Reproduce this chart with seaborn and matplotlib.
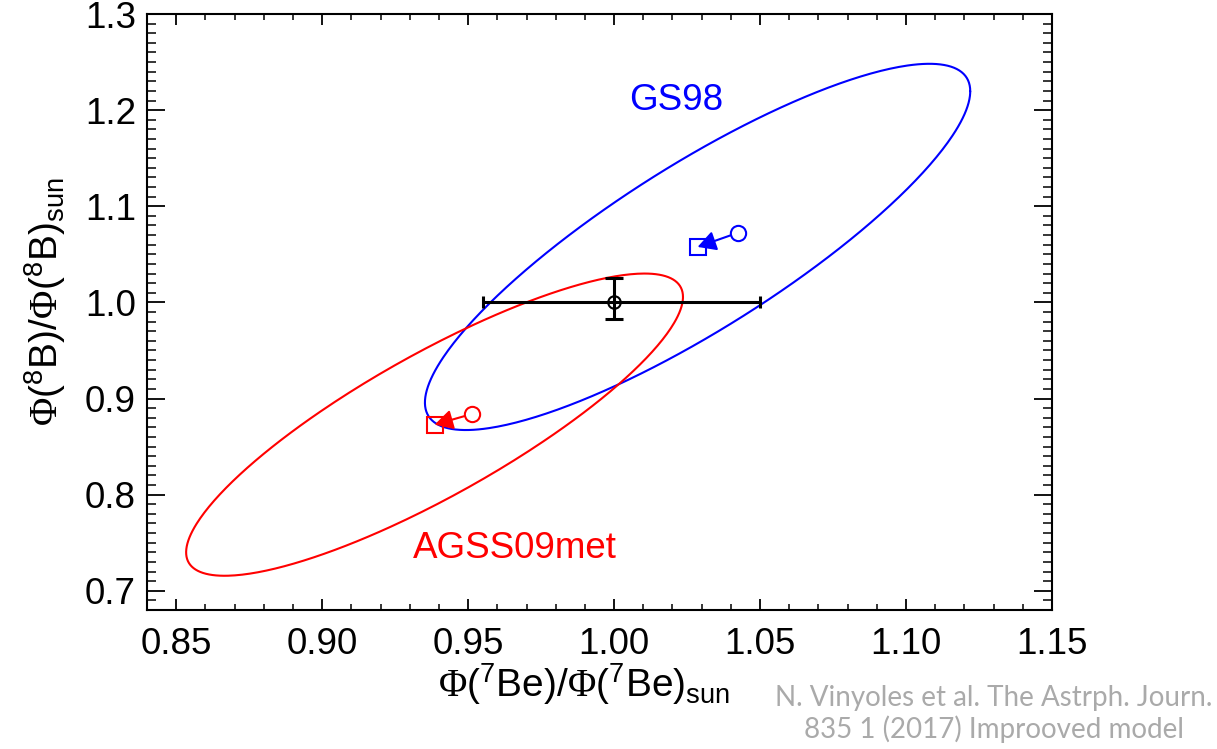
import numpy as np
import pandas as pd
import matplotlib
matplotlib.use("Agg")
import matplotlib.pyplot as plt
from matplotlib.ticker import MultipleLocator, FormatStrFormatter
import seaborn as sns

# ---- data ----
models = ["GS98", "AGSS09met"]
model_colors = ["#0000ff", "#ff0000"]
# improved model (squares, ellipse centres)
new_x = [1.0286, 0.9385]
new_y = [1.0577, 0.8728]
# previous model (circles)
old_x = [1.0424, 0.9513]
old_y = [1.0724, 0.8839]
# 1-sigma ellipse parameters
sigma_x = [0.0934, 0.0851]
sigma_y = [0.1905, 0.1572]
rho = [0.85, 0.845]
# measurement
meas_x = [1.00]
meas_y = [1.00]
meas_xerr_lo = [0.045]
meas_xerr_hi = [0.050]
meas_yerr_lo = [0.017]
meas_yerr_hi = [0.025]
# labels
label_x = [1.0213, 0.9661]
label_y = [1.2096, 0.7443]
xticks = [0.85, 0.90, 0.95, 1.00, 1.05, 1.10, 1.15]
yticks = [0.7, 0.8, 0.9, 1.0, 1.1, 1.2, 1.3]

sns.set_theme(style="ticks")
plt.rcParams["font.family"] = ["Liberation Sans", "DejaVu Sans"]
plt.rcParams["mathtext.fontset"] = "custom"
plt.rcParams["mathtext.rm"] = "Liberation Sans"
plt.rcParams["mathtext.it"] = "Liberation Sans:italic"
plt.rcParams["mathtext.bf"] = "Liberation Serif"

fig = plt.figure(figsize=(12.17, 7.49), dpi=100)
ax = fig.add_axes([0.1208, 0.1856, 0.7436, 0.7957])

# ellipses
t = np.linspace(0, 2 * np.pi, 400)
rows = []
for m, cx, cy, sx, sy, r in zip(models, new_x, new_y, sigma_x, sigma_y, rho):
    ex = cx + sx * np.cos(t)
    ey = cy + sy * (r * np.cos(t) + np.sqrt(1 - r**2) * np.sin(t))
    rows.append(pd.DataFrame({"x": ex, "y": ey, "model": m}))
ell = pd.concat(rows, ignore_index=True)
sns.lineplot(data=ell, x="x", y="y", hue="model", palette=dict(zip(models, model_colors)),
             sort=False, estimator=None, units="model", lw=1.5, legend=False, ax=ax)

pts_new = pd.DataFrame({"x": new_x, "y": new_y, "model": models})
pts_old = pd.DataFrame({"x": old_x, "y": old_y, "model": models})
for m, c in zip(models, model_colors):
    sub_n = pts_new[pts_new.model == m]
    sub_o = pts_old[pts_old.model == m]
    ax.plot(sub_n.x, sub_n.y, ls="none", marker="s", ms=11.5, mfc="none", mec=c, mew=1.5, zorder=4)
    ax.plot(sub_o.x, sub_o.y, ls="none", marker="o", ms=11, mfc="none", mec=c, mew=1.5, zorder=4)
    ax.annotate("", xy=(sub_n.x.iloc[0], sub_n.y.iloc[0]), xytext=(sub_o.x.iloc[0], sub_o.y.iloc[0]),
                arrowprops=dict(arrowstyle="-|>,head_length=0.55,head_width=0.3", color=c, lw=1.5,
                                mutation_scale=20, shrinkA=5.5, shrinkB=0), zorder=5)

# measurement with errors
ax.errorbar(meas_x, meas_y, xerr=[meas_xerr_lo, meas_xerr_hi], fmt="none", ecolor="black",
            elinewidth=2.2, capsize=4, capthick=2.2, zorder=6)
ax.errorbar(meas_x, meas_y, yerr=[meas_yerr_lo, meas_yerr_hi], fmt="none", ecolor="black",
            elinewidth=2.2, capsize=6.5, capthick=2.2, zorder=6)
ax.plot(meas_x, meas_y, ls="none", marker="o", ms=9, mfc="none", mec="black", mew=1.5, zorder=7)

for m, c, lx, ly in zip(models, model_colors, label_x, label_y):
    ax.text(lx, ly, m, color=c, fontsize=26.5, ha="center", va="center")

ax.set_xlim(0.84, 1.15)
ax.set_ylim(0.68, 1.30)
ax.set_xticks(xticks)
ax.set_yticks(yticks)
ax.xaxis.set_major_formatter(FormatStrFormatter("%.2f"))
ax.yaxis.set_major_formatter(FormatStrFormatter("%.1f"))
ax.xaxis.set_minor_locator(MultipleLocator(0.01))
ax.yaxis.set_minor_locator(MultipleLocator(0.01))
ax.tick_params(axis="both", which="both", direction="in", top=True, right=True,
               colors="black", labelsize=26.5)
ax.tick_params(axis="x", which="major", length=8, width=1.3, pad=12)
ax.tick_params(axis="x", which="minor", length=4, width=1.1)
ax.tick_params(axis="y", which="major", length=13, width=1.3, pad=8)
ax.tick_params(axis="y", which="minor", length=6.5, width=1.1)
for s in ax.spines.values():
    s.set_color("black")
    s.set_linewidth(1.5)
ax.set_facecolor("white")
ax.grid(False)

ax.set_xlabel(r"$\mathbf{\Phi}(^{7}\mathrm{Be})/\mathbf{\Phi}(^{7}\mathrm{Be})_{\mathrm{sun}}$",
              fontsize=28, color="black")
ax.set_ylabel(r"$\mathbf{\Phi}(^{8}\mathrm{B})/\mathbf{\Phi}(^{8}\mathrm{B})_{\mathrm{sun}}$",
              fontsize=28, color="black")
ax.xaxis.set_label_coords(0.4834, -0.125, transform=ax.transAxes)
ax.xaxis.label.set_va("center")
ax.yaxis.set_label_coords(-0.1127, 0.517, transform=ax.transAxes)
ax.yaxis.label.set_va("center")

fig.text(994 / 1217, 1 - 714 / 749, "N. Vinyoles et al. The Astrph. Journ.\n835 1 (2017) Improoved model",
         ha="center", va="center", multialignment="center", fontsize=20, color="#aaaaaa",
         family=["Lato", "Liberation Sans"], fontweight="normal", linespacing=1.2)

fig.savefig("out.png", dpi=100, facecolor="white")
